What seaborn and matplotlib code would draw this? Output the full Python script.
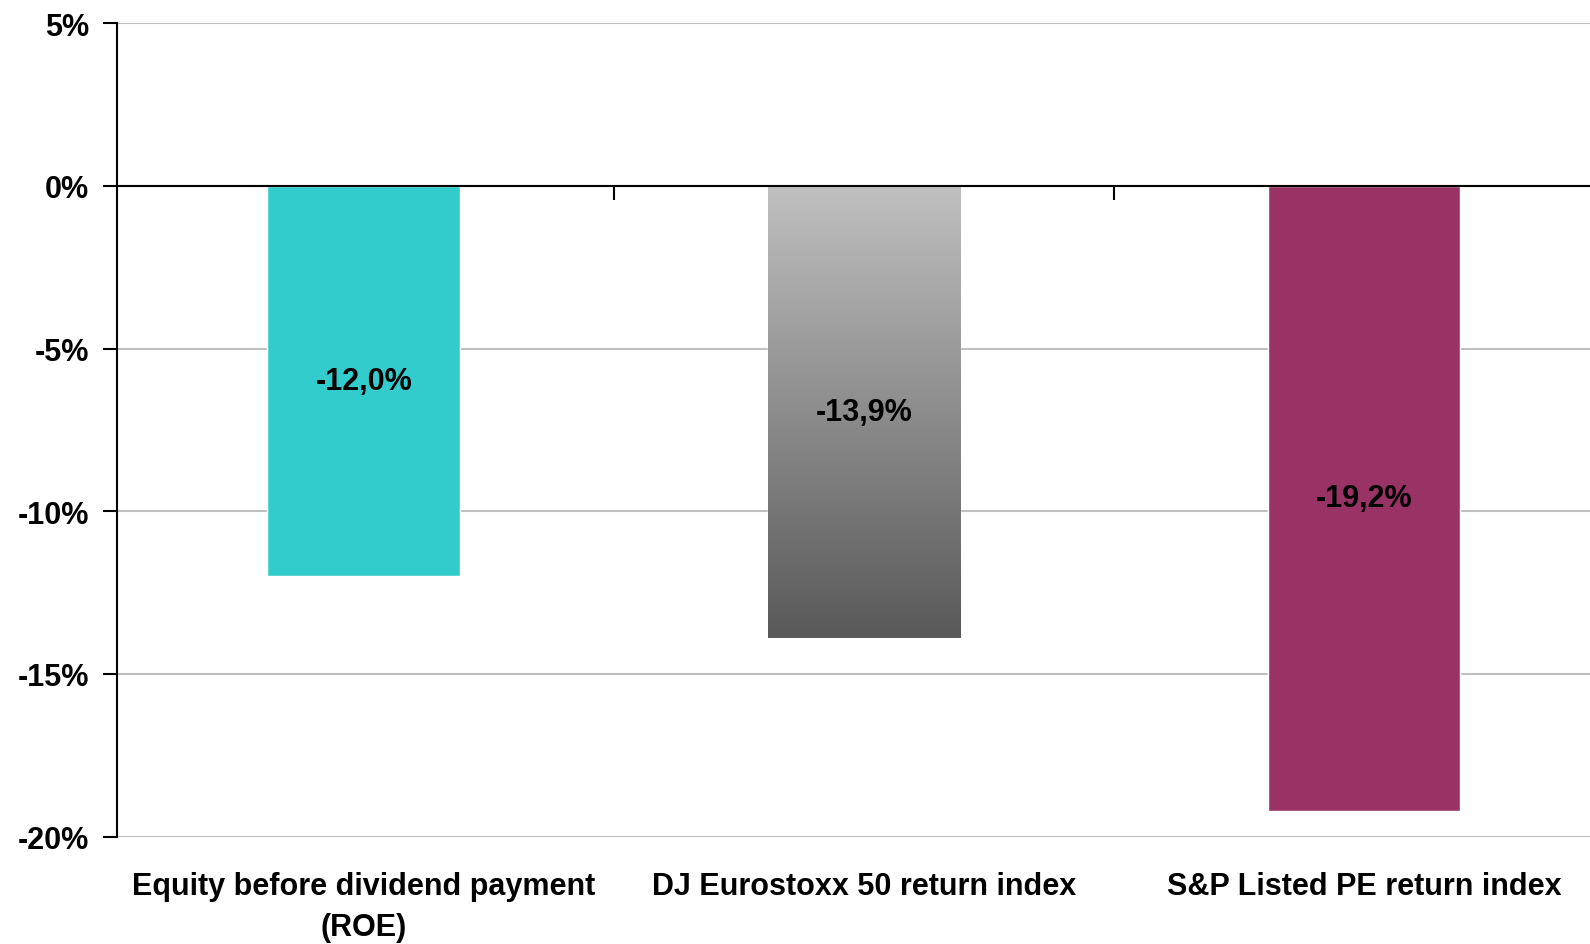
import numpy as np
import pandas as pd
import matplotlib
matplotlib.use("Agg")
import matplotlib.pyplot as plt
import matplotlib.ticker as mticker
from matplotlib.colors import LinearSegmentedColormap
import seaborn as sns

categories = ["Equity before dividend payment\n(ROE)", "DJ Eurostoxx 50 return index", "S&P Listed PE return index"]
values = [-12.0, -13.9, -19.2]
labels = ["-12,0%", "-13,9%", "-19,2%"]
yticks = [5, 0, -5, -10, -15, -20]
colors = ["#33CCCC", "#A0A0A0", "#993366"]

sns.set_theme(style="white")
plt.rcParams["font.family"] = ["Liberation Sans", "DejaVu Sans"]
plt.rcParams["font.weight"] = "bold"
plt.rcParams["text.color"] = "black"
plt.rcParams["xtick.color"] = "black"
plt.rcParams["ytick.color"] = "black"

fig = plt.figure(figsize=(15.9, 9.45), dpi=100)
ax = fig.add_axes([0.0733, 0.1137, 0.9437, 0.8606])

df = pd.DataFrame({"cat": categories, "val": values})
sns.barplot(data=df, x="cat", y="val", hue="cat", palette=colors, width=0.385,
            legend=False, ax=ax, saturation=1)

XLIM = (-0.494, 2.506)
ax.set_ylim(-20, 5)
ax.set_xlim(*XLIM)
ax.set_yticks(yticks)
ax.yaxis.set_major_formatter(mticker.FuncFormatter(lambda v, p: f"{v:.0f}%"))
ax.yaxis.grid(True, color="#C0C0C0", linewidth=1.5)
ax.set_axisbelow(True)
ax.set_xlabel("")
ax.set_ylabel("")

# gradient on middle bar
p = ax.patches[1]
p.set_facecolor("none")
x0, y0 = p.get_x(), p.get_y()
w, h = p.get_width(), p.get_height()
cmap = LinearSegmentedColormap.from_list("g", ["#595959", "#C0C0C0"])
grad = np.linspace(0, 1, 256).reshape(-1, 1)
im = ax.imshow(grad, cmap=cmap, aspect="auto", origin="lower",
               extent=[x0, x0 + w, y0 + h, y0], zorder=p.get_zorder())
im.set_clip_path(p)
ax.set_xlim(*XLIM)
ax.set_ylim(-20, 5)

for i, (v, lab) in enumerate(zip(values, labels)):
    ax.text(i, v / 2, lab, ha="center", va="center", fontsize=22,
            fontweight="bold", color="black", zorder=5)

for s in ["top", "right"]:
    ax.spines[s].set_visible(False)
ax.spines["left"].set_color("black")
ax.spines["left"].set_linewidth(1.5)
ax.spines["bottom"].set_position(("data", 0))
ax.spines["bottom"].set_color("black")
ax.spines["bottom"].set_linewidth(1.5)
ax.spines["bottom"].set_zorder(6)

ax.set_xticks([0.5, 1.5])
ax.set_xticklabels([])
ax.tick_params(axis="x", direction="out", length=10, width=1.5, color="black", bottom=True)
ax.tick_params(axis="y", direction="out", length=10, width=1.5, color="black", left=True,
               labelsize=22, pad=10, labelcolor="black")
for t in ax.get_yticklabels():
    t.set_fontweight("bold")

sec = ax.secondary_xaxis("bottom")
sec.set_xticks(range(len(categories)))
sec.set_xticklabels(categories, fontsize=22, fontweight="bold", linespacing=1.45,
                    color="black")
sec.tick_params(length=0, pad=25)
sec.spines["bottom"].set_visible(False)

fig.savefig("out.png", dpi=100)
